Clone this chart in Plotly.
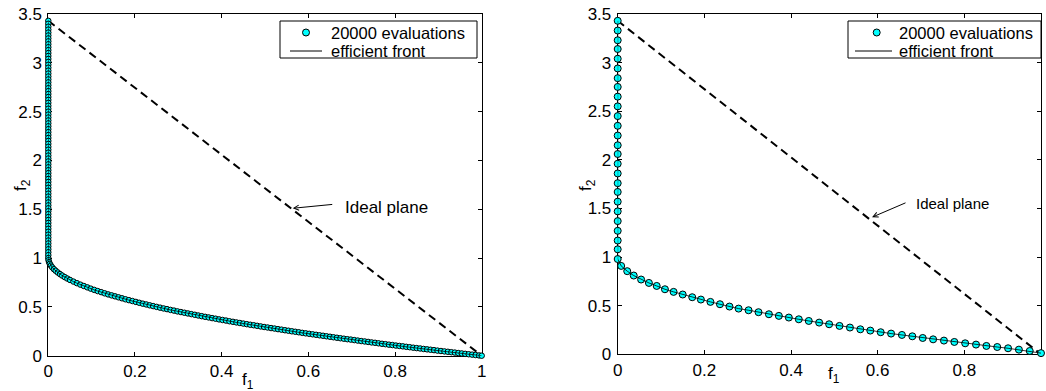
import plotly.graph_objects as go

W, H = 1046, 391
FONT = "Liberation Sans, Arial, Helvetica, sans-serif"
CYAN = "#00ffff"

# ---------------- left panel: 20000 evaluations (dense sampling) ----------------
left_wall_f1 = [0, 0, 0, 0, 0, 0, 0, 0, 0, 0, 0, 0, 0, 0, 0, 0, 0, 0, 0, 0,
                0, 0, 0, 0, 0, 0, 0, 0, 0, 0, 0, 0, 0, 0, 0, 0, 0, 0, 0, 0,
                0, 0, 0, 0, 0, 0, 0, 0, 0, 0, 0, 0, 0, 0, 0, 0, 0, 0, 0, 0,
                0, 0, 0, 0, 0, 0, 0, 0, 0, 0, 0, 0, 0, 0, 0, 0, 0, 0, 0, 0,
                0, 0]
left_wall_f2 = [3.43, 3.40, 3.37, 3.34, 3.31, 3.28, 3.25, 3.22, 3.19, 3.16,
                3.13, 3.10, 3.07, 3.04, 3.01, 2.98, 2.95, 2.92, 2.89, 2.86,
                2.83, 2.80, 2.77, 2.74, 2.71, 2.68, 2.65, 2.62, 2.59, 2.56,
                2.53, 2.50, 2.47, 2.44, 2.41, 2.38, 2.35, 2.32, 2.29, 2.26,
                2.23, 2.20, 2.17, 2.14, 2.11, 2.08, 2.05, 2.02, 1.99, 1.96,
                1.93, 1.90, 1.87, 1.84, 1.81, 1.78, 1.75, 1.72, 1.69, 1.66,
                1.63, 1.60, 1.57, 1.54, 1.51, 1.48, 1.45, 1.42, 1.39, 1.36,
                1.33, 1.30, 1.27, 1.24, 1.21, 1.18, 1.15, 1.12, 1.09, 1.06,
                1.03, 1.00]
left_curve_f1 = [0.0005, 0.0018, 0.0035, 0.006, 0.009, 0.013, 0.017, 0.022,
                 0.027, 0.032, 0.038, 0.044,
                 0.050, 0.058, 0.066, 0.074, 0.082, 0.090, 0.098, 0.106, 0.114, 0.122,
                 0.130, 0.138, 0.146, 0.154, 0.162, 0.170, 0.178, 0.186, 0.194, 0.202,
                 0.210, 0.218, 0.226, 0.234, 0.242, 0.250, 0.258, 0.266, 0.274, 0.282,
                 0.290, 0.298, 0.306, 0.314, 0.322, 0.330, 0.338, 0.346, 0.354, 0.362,
                 0.370, 0.378, 0.386, 0.394, 0.402, 0.410, 0.418, 0.426, 0.434, 0.442,
                 0.450, 0.458, 0.466, 0.474, 0.482, 0.490, 0.498, 0.506, 0.514, 0.522,
                 0.530, 0.538, 0.546, 0.554, 0.562, 0.570, 0.578, 0.586, 0.594, 0.602,
                 0.610, 0.618, 0.626, 0.634, 0.642, 0.650, 0.658, 0.666, 0.674, 0.682,
                 0.690, 0.698, 0.706, 0.714, 0.722, 0.730, 0.738, 0.746, 0.754, 0.762,
                 0.770, 0.778, 0.786, 0.794, 0.802, 0.810, 0.818, 0.826, 0.834, 0.842,
                 0.850, 0.858, 0.866, 0.874, 0.882, 0.890, 0.898, 0.906, 0.914, 0.922,
                 0.930, 0.938, 0.946, 0.954, 0.962, 0.970, 0.978, 0.986, 0.994, 1.000]
left_curve_f2 = [0.978, 0.958, 0.941, 0.923, 0.905, 0.886, 0.870, 0.852,
                 0.836, 0.821, 0.805, 0.790,
                 0.776, 0.759, 0.743, 0.728, 0.714, 0.700, 0.687, 0.674, 0.662, 0.651,
                 0.639, 0.628, 0.618, 0.608, 0.598, 0.588, 0.578, 0.569, 0.560, 0.551,
                 0.542, 0.533, 0.525, 0.516, 0.508, 0.500, 0.492, 0.484, 0.477, 0.469,
                 0.462, 0.454, 0.447, 0.440, 0.433, 0.426, 0.419, 0.412, 0.405, 0.398,
                 0.392, 0.385, 0.379, 0.372, 0.366, 0.360, 0.353, 0.347, 0.341, 0.335,
                 0.329, 0.323, 0.317, 0.312, 0.306, 0.300, 0.294, 0.289, 0.283, 0.278,
                 0.272, 0.267, 0.261, 0.256, 0.250, 0.245, 0.240, 0.234, 0.229, 0.224,
                 0.219, 0.214, 0.209, 0.204, 0.199, 0.194, 0.189, 0.184, 0.179, 0.174,
                 0.169, 0.165, 0.160, 0.155, 0.150, 0.146, 0.141, 0.136, 0.132, 0.127,
                 0.122, 0.118, 0.113, 0.109, 0.104, 0.100, 0.096, 0.091, 0.087, 0.082,
                 0.078, 0.074, 0.069, 0.065, 0.061, 0.057, 0.052, 0.048, 0.044, 0.040,
                 0.036, 0.032, 0.027, 0.023, 0.019, 0.015, 0.011, 0.007, 0.003, 0.000]

# ---------------- right panel: coarser sampling ----------------
right_wall_f1 = [0, 0, 0, 0, 0, 0, 0, 0, 0, 0, 0, 0, 0, 0, 0, 0, 0, 0, 0, 0,
                 0, 0, 0, 0, 0, 0]
right_wall_f2 = [3.43, 3.33, 3.23, 3.14, 3.04, 2.94, 2.84, 2.75, 2.65, 2.55,
                 2.45, 2.35, 2.25, 2.15, 2.06, 1.96, 1.86, 1.76, 1.67, 1.57,
                 1.47, 1.37, 1.27, 1.17, 1.08, 0.98]
right_curve_f1 = [0.008, 0.022, 0.037, 0.054, 0.072, 0.090, 0.109, 0.129, 0.150, 0.172,
                  0.192, 0.214, 0.236, 0.258, 0.279, 0.302, 0.325, 0.349, 0.372, 0.395,
                  0.418, 0.441, 0.465, 0.488, 0.512, 0.536, 0.560, 0.583, 0.607, 0.631,
                  0.656, 0.680, 0.704, 0.728, 0.753, 0.777, 0.802, 0.827, 0.851, 0.876,
                  0.901, 0.926, 0.951, 0.977]
right_curve_f2 = [0.909, 0.855, 0.810, 0.769, 0.734, 0.703, 0.669, 0.642, 0.615, 0.587,
                  0.563, 0.539, 0.515, 0.491, 0.470, 0.453, 0.433, 0.412, 0.395, 0.378,
                  0.360, 0.343, 0.326, 0.309, 0.292, 0.275, 0.257, 0.244, 0.227, 0.213,
                  0.199, 0.185, 0.168, 0.154, 0.141, 0.127, 0.113, 0.100, 0.086, 0.075,
                  0.062, 0.048, 0.034, 0.012]

# ideal plane end points
ideal_left_f1 = [0.0, 1.0]
ideal_left_f2 = [3.43, 0.0]
ideal_right_f1 = [0.0, 0.977]
ideal_right_f2 = [3.43, 0.0]

# axis ticks
left_f1_ticks = [0, 0.2, 0.4, 0.6, 0.8, 1]
left_f1_labels = ["0", "0.2", "0.4", "0.6", "0.8", "1"]
right_f1_ticks = [0, 0.2, 0.4, 0.6, 0.8]
right_f1_labels = ["0", "0.2", "0.4", "0.6", "0.8"]
f2_ticks = [0, 0.5, 1, 1.5, 2, 2.5, 3, 3.5]
f2_labels = ["0", "0.5", "1", "1.5", "2", "2.5", "3", "3.5"]

assert len(left_wall_f1) == len(left_wall_f2)
assert len(left_curve_f1) == len(left_curve_f2)
assert len(right_wall_f1) == len(right_wall_f2)
assert len(right_curve_f1) == len(right_curve_f2)

left_f1 = left_wall_f1 + left_curve_f1
left_f2 = left_wall_f2 + left_curve_f2
right_f1 = right_wall_f1 + right_curve_f1
right_f2 = right_wall_f2 + right_curve_f2


def px(x):
    return x / W


def py(y):
    return 1 - y / H


fig = go.Figure()


def add_panel(xa, ya, f1, f2, ideal_f1, ideal_f2, msize):
    fig.add_trace(go.Scatter(
        x=ideal_f1, y=ideal_f2, mode="lines", xaxis=xa, yaxis=ya,
        line=dict(color="black", width=2, dash="8px,5px"),
        showlegend=False, hoverinfo="skip"))
    fig.add_trace(go.Scatter(
        x=f1, y=f2, mode="markers", xaxis=xa, yaxis=ya, name="20000 evaluations",
        marker=dict(size=msize, color=CYAN, line=dict(color="black", width=1)),
        cliponaxis=False, showlegend=False))
    fig.add_trace(go.Scatter(
        x=f1, y=f2, mode="lines", xaxis=xa, yaxis=ya, name="efficient front",
        line=dict(color="black", width=0.8), cliponaxis=False, showlegend=False))


add_panel("x", "y", left_f1, left_f2, ideal_left_f1, ideal_left_f2, 5.5)
add_panel("x2", "y2", right_f1, right_f2, ideal_right_f1, ideal_right_f2, 7)

axis_common = dict(
    showline=True, linecolor="black", linewidth=1, mirror="ticks",
    ticks="inside", ticklen=4, tickcolor="black", tickwidth=1,
    showgrid=False, zeroline=False, layer="below traces", automargin=False,
    tickfont=dict(family=FONT, size=17, color="black"),
)

fig.update_layout(
    template="none",
    width=W, height=H,
    margin=dict(l=0, r=0, t=0, b=0, pad=0, autoexpand=False),
    paper_bgcolor="white", plot_bgcolor="white",
    showlegend=False,
    xaxis=dict(domain=[px(48.3), px(481.7)], range=[0, 1], anchor="y",
               tickvals=left_f1_ticks, ticktext=left_f1_labels,
               ticklabelstandoff=0, **axis_common),
    yaxis=dict(domain=[py(355.7), py(14)], range=[0, 3.5], anchor="x",
               tickvals=f2_ticks, ticktext=f2_labels,
               ticklabelstandoff=2, **axis_common),
    xaxis2=dict(domain=[px(617.7), px(1041)], range=[0, 0.977], anchor="y2",
                tickvals=right_f1_ticks, ticktext=right_f1_labels,
                ticklabelstandoff=0, **axis_common),
    yaxis2=dict(domain=[py(354.3), py(14)], range=[0, 3.5], anchor="x2",
                tickvals=f2_ticks, ticktext=f2_labels,
                ticklabelstandoff=2, **axis_common),
)

shapes = []
annotations = []


def draw_legend(bx0, bx1, by0, by1, mx, lx0, lx1, tx, row1, row2, size):
    shapes.append(dict(type="rect", xref="paper", yref="paper",
                       x0=px(bx0), x1=px(bx1), y0=py(by1), y1=py(by0),
                       line=dict(color="black", width=1), fillcolor="white"))
    shapes.append(dict(type="circle", xref="paper", yref="paper",
                       x0=px(mx - 3.5), x1=px(mx + 3.5),
                       y0=py(row1 + 3.5), y1=py(row1 - 3.5),
                       line=dict(color="black", width=1), fillcolor=CYAN))
    shapes.append(dict(type="line", xref="paper", yref="paper",
                       x0=px(lx0), x1=px(lx1), y0=py(row2), y1=py(row2),
                       line=dict(color="black", width=1)))
    for text, row in (("20000 evaluations", row1), ("efficient front", row2)):
        annotations.append(dict(text=text, xref="paper", yref="paper",
                                x=px(tx), y=py(row), xanchor="left", yanchor="middle",
                                showarrow=False, borderpad=0,
                                font=dict(family=FONT, size=size, color="black")))


draw_legend(280, 477, 21, 58, 306, 290, 322, 330, 32.5, 51, 16.5)
draw_legend(848, 1041, 21, 58, 876.7, 855, 892, 898, 32.5, 51, 16.5)

# "Ideal plane" arrows and labels
annotations.append(dict(x=0.564, y=1.51, xref="x", yref="y", text="",
                        showarrow=True, arrowhead=5, arrowsize=1, arrowwidth=1,
                        arrowcolor="black", ax=41, ay=-4))
annotations.append(dict(x=px(343), y=py(207), xref="paper", yref="paper",
                        text="Ideal plane", xanchor="left", yanchor="middle",
                        showarrow=False, font=dict(family=FONT, size=17, color="black")))
annotations.append(dict(x=0.587, y=1.41, xref="x2", yref="y2", text="",
                        showarrow=True, arrowhead=5, arrowsize=1, arrowwidth=1,
                        arrowcolor="black", ax=35, ay=-15))
annotations.append(dict(x=px(914), y=py(203), xref="paper", yref="paper",
                        text="Ideal plane", xanchor="left", yanchor="middle",
                        showarrow=False, font=dict(family=FONT, size=15, color="black")))

# axis titles
title_font = dict(family=FONT, size=17, color="black")
annotations.append(dict(x=px(248), y=py(381), xref="paper", yref="paper",
                        text="f<sub>1</sub>", showarrow=False,
                        xanchor="center", yanchor="middle", font=title_font))
annotations.append(dict(x=px(834), y=py(375), xref="paper", yref="paper",
                        text="f<sub>1</sub>", showarrow=False,
                        xanchor="center", yanchor="middle", font=title_font))
annotations.append(dict(x=px(22), y=py(185), xref="paper", yref="paper",
                        text="f<sub>2</sub>", showarrow=False, textangle=-90,
                        xanchor="center", yanchor="middle", font=title_font))
annotations.append(dict(x=px(587), y=py(185), xref="paper", yref="paper",
                        text="f<sub>2</sub>", showarrow=False, textangle=-90,
                        xanchor="center", yanchor="middle", font=title_font))

fig.update_layout(shapes=shapes, annotations=annotations)

fig.write_html("out.html")
